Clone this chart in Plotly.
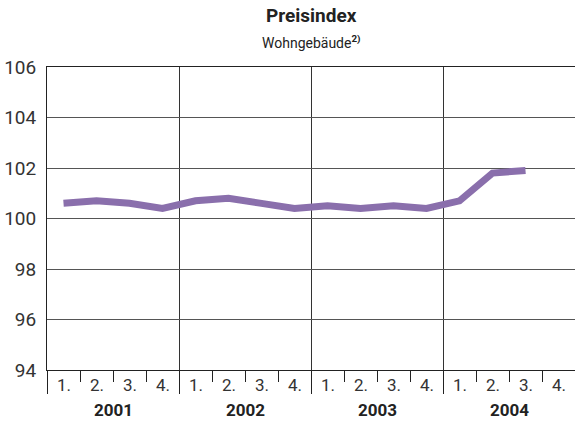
import plotly.graph_objects as go

years = ["2001", "2002", "2003", "2004"]
quarter_labels = ["1.", "2.", "3.", "4."]
values = [100.6, 100.7, 100.6, 100.4,
          100.7, 100.8, 100.6, 100.4,
          100.5, 100.4, 100.5, 100.4,
          100.7, 101.8, 101.9]
y_ticks = [94, 96, 98, 100, 102, 104, 106]

FONT = "Roboto, Liberation Sans, sans-serif"

n_q = len(years) * len(quarter_labels)
xs = [i + 0.5 for i in range(len(values))]

fig = go.Figure()
fig.add_trace(go.Scatter(
    x=xs, y=values, mode="lines",
    line=dict(color="#8A6FAC", width=7),
    hoverinfo="skip", showlegend=False,
))

annotations = [
    dict(x=0.5, y=1.1716, xref="paper", yref="paper", text="<b>Preisindex</b>",
         showarrow=False, yanchor="middle", xanchor="center",
         font=dict(family=FONT, size=19, color="#222222")),
    dict(x=0.5, y=1.0825, xref="paper", yref="paper",
         text="Wohngebäude<sup><b>2)</b></sup>",
         showarrow=False, yanchor="middle", xanchor="center",
         font=dict(family=FONT, size=14, color="#222222")),
]
for yi, yr in enumerate(years):
    for qi, q in enumerate(quarter_labels):
        annotations.append(dict(
            x=yi * 4 + qi + 0.5, y=-0.0495, xref="x", yref="paper",
            text=q, showarrow=False, yanchor="middle",
            font=dict(family=FONT, size=17, color="#333333"),
        ))
    annotations.append(dict(
        x=yi * 4 + 2, y=-0.132, xref="x", yref="paper",
        text="<b>" + yr + "</b>", showarrow=False, yanchor="middle",
        font=dict(family=FONT, size=17, color="#222222"),
    ))

fig.update_layout(
    width=575, height=427,
    margin=dict(l=47, r=0, t=67, b=57),
    paper_bgcolor="white", plot_bgcolor="white",
    xaxis=dict(
        range=[0, n_q], tickvals=[0, 4, 8, 12, 16], showticklabels=False,
        ticks="outside", ticklen=23, tickcolor="#222222", tickwidth=1,
        showgrid=True, gridcolor="#333333", gridwidth=1,
        showline=True, linecolor="#222222", linewidth=1, mirror=True,
        zeroline=False,
        minor=dict(dtick=1, tick0=0, ticks="outside", ticklen=11,
                   tickcolor="#222222", tickwidth=1, showgrid=False),
    ),
    yaxis=dict(
        range=[94, 106], tickvals=y_ticks,
        ticks="", showgrid=True, gridcolor="#555555", gridwidth=1,
        showline=True, linecolor="#222222", linewidth=1, zeroline=False,
        tickfont=dict(family=FONT, size=19, color="#333333"),
        ticklabelstandoff=6,
    ),
    annotations=annotations,
)

fig.write_html("out.html", config={"displayModeBar": False},
               post_script="document.body.style.margin='0';")
